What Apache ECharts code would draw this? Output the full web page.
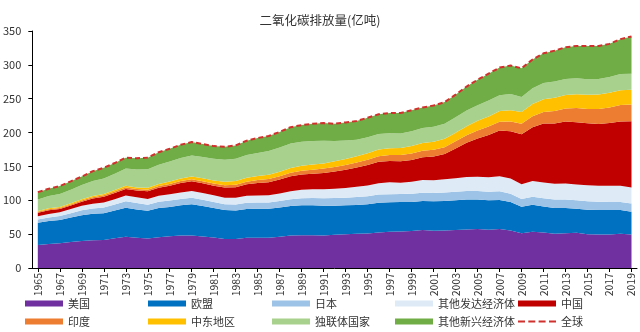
<!DOCTYPE html>
<html>
<head>
<meta charset="utf-8">
<script src="https://cdn.jsdelivr.net/npm/echarts@6/dist/echarts.min.js"></script>
<style>
html,body{margin:0;padding:0;background:#fff;}
#chart{width:640px;height:332px;}
</style>
</head>
<body>
<div id="chart"></div>
<script>
const years = [1965,1966,1967,1968,1969,1970,1971,1972,1973,1974,1975,1976,1977,1978,1979,1980,1981,1982,1983,1984,1985,1986,1987,1988,1989,1990,1991,1992,1993,1994,1995,1996,1997,1998,1999,2000,2001,2002,2003,2004,2005,2006,2007,2008,2009,2010,2011,2012,2013,2014,2015,2016,2017,2018,2019];

const usa = [34,35.5,36.5,38.5,40,41,41.5,44,46,44.5,43.5,45.5,47,48,48,46.5,45,43,43,44.5,44.5,44.5,46,48,48.5,48.5,48,49,50,50.5,51,52.5,53.5,54,54.5,56,55,55.5,56,57,57.5,56.5,57.5,55.5,51.5,53.5,52.5,50.5,51.5,52,50,49.5,49.5,50.5,49.5];
const eu = [33,34,34.5,36,38,39,39.5,41,43,42,41,43,43,44.5,46,45,43.5,42.5,42,42.5,43,43,43.5,43.5,44,44,44,43,42.5,42.5,43,44,43.5,43.5,43,43,43.5,43.5,44,44,43.5,43.5,43,42,39,40,38.5,38,37,35.5,36,36,36,35,33.5];
const japan = [4.5,5,5.7,6.5,7.3,8,8.3,8.8,9.6,9.4,9,9.3,9.5,9.3,9.7,9.4,9.1,8.8,8.8,9.3,9.2,9.2,9.3,10,10.4,10.9,11,11.2,11.1,11.7,11.8,12,12,11.7,12.1,12.3,12.2,12.4,12.5,12.6,12.6,12.5,12.7,12.1,11.3,11.8,12.1,12.6,12.8,12.4,12.5,12.2,12,11.8,12.3];
const otherDev = [5,5.3,5.6,6,6.5,7,7.4,7.9,8.5,8.5,8.5,9,9.3,9.6,10,10,9.8,9.6,9.8,10.3,10.5,10.8,11.3,12,12.6,13,13.4,14,14.5,15.2,16,16.8,17.5,16.8,17.8,18.8,19,19.5,20,20.7,21.2,21.5,22.2,22.4,21.8,23,23.3,23.4,23.6,23.5,23.6,23.8,24,24.2,23.6];
const china = [5,5.5,4.8,5.2,6.2,7.8,8.7,9.2,9.7,9.9,11.3,11.7,12.8,14.3,14.5,14.3,14.2,15,15.8,17,18.4,19.3,20.6,22,22.5,22.8,24,25.3,27,28.5,30.2,31.5,31.5,31.8,32.2,33.5,35,37.5,44,50.5,56.5,62.5,67.5,70,74,79.5,87,89,91.5,92,91.5,91,92.5,95,98];
const india = [1.5,1.6,1.6,1.7,1.8,1.8,1.9,2,2.1,2.2,2.4,2.5,2.6,2.7,2.9,3,3.3,3.4,3.7,3.9,4.3,4.6,4.9,5.3,5.7,6,6.4,6.8,7,7.4,8,8.3,8.7,8.9,9.4,9.7,9.8,10.1,10.5,11.1,11.6,12.3,13.2,14.3,15.6,16.3,17.1,18.5,19.3,20.8,21.3,22.2,23,24.4,24.6];
const middleEast = [1.3,1.4,1.5,1.6,1.7,1.8,2,2.2,2.4,2.5,2.7,3.1,3.4,3.6,3.9,4.3,4.5,5,5.3,5.7,6,6.3,6.7,7,7.3,7.5,7.7,8.3,8.8,9.2,9.5,9.8,10.3,10.6,11,11.3,11.8,12.3,12.8,13.6,14.4,15.1,15.6,16.7,17.3,18.2,18.6,19.3,19.8,20.5,20.9,21.4,21.8,21.7,21.9];
const cis = [17,18,19,20,21,22,23,24,25.5,26.5,27.5,28.5,29.5,30.5,31,31.5,32,32.5,33,33.5,34,35,35.5,36,35.5,35,33.5,30,27.5,24.5,23.5,23,22,21.5,22,22,22.3,22.3,22.8,23,23,23.6,23.6,24,22.2,23,24,24.3,23.5,23.5,22.8,23,23.2,23.8,23.5];
const otherEmerging = [10.7,10.7,11.8,12.5,12.5,14.6,15.7,15.9,16.2,16.5,17.1,18.4,18.9,19.5,20,19,18.6,19.2,19.6,21.3,22.1,22.3,23.2,24.2,24.5,25.3,26,25.4,26.6,27.5,29,29.1,30,30.2,31,30.4,31.4,31.9,33.4,35.5,37.7,39.5,40.7,42,42.3,42.7,43.9,45.4,47,47.8,49.4,48.9,49,51.6,55.1];
const globalTotal = [112,117,121,128,135,143,148,155,163,162,163,171,176,182,186,183,180,179,181,188,192,195,201,208,211,213,214,213,215,217,222,227,229,229,233,237,240,245,256,268,278,287,296,299,295,308,317,321,326,328,328,328,331,338,342];

const yTicks = [0,50,100,150,200,250,300,350];

const FONT = "'Noto Sans CJK SC', 'Noto Sans', sans-serif";

const areaDefs = [
  ['美国', usa, '#7030A0'],
  ['欧盟', eu, '#0070C0'],
  ['日本', japan, '#9DC3E6'],
  ['其他发达经济体', otherDev, '#DEEBF7'],
  ['中国', china, '#C00000'],
  ['印度', india, '#ED7D31'],
  ['中东地区', middleEast, '#FFC000'],
  ['独联体国家', cis, '#A9D18E'],
  ['其他新兴经济体', otherEmerging, '#70AD47']
];
const globalName = '全球';
const globalColor = '#D0312D';

const series = areaDefs.map(([name, data, color]) => ({
  name: name,
  type: 'line',
  stack: 'total',
  data: data,
  symbol: 'none',
  showSymbol: false,
  itemStyle: { color: color },
  lineStyle: { width: 0, opacity: 0, color: color },
  areaStyle: { color: color, opacity: 1 },
  emphasis: { disabled: true },
  z: 2
}));

series.push({
  name: globalName,
  type: 'line',
  data: globalTotal,
  symbol: 'none',
  showSymbol: false,
  itemStyle: { color: globalColor },
  lineStyle: { color: globalColor, width: 2, type: [5, 3] },
  emphasis: { disabled: true },
  z: 5
});

// legend layout: 5 columns x 2 rows
const colLeft = [25, 148, 272, 395, 518];
const rowTop = [298, 316];
const legendNames = areaDefs.map(d => d[0]).concat([globalName]);
const dashIcon = 'path://M0,0h7v2h-7z M10.3,0h7v2h-7z M20.6,0h7v2h-7z M31,0h7v2h-7z';

const legends = legendNames.map((name, i) => {
  const isGlobal = name === globalName;
  return {
    orient: 'horizontal',
    left: colLeft[i % 5],
    top: rowTop[Math.floor(i / 5)],
    itemWidth: 38,
    itemHeight: isGlobal ? 2 : 6,
    itemGap: 0,
    padding: 0,
    selectedMode: false,
    textStyle: { fontSize: 11, color: '#333', fontFamily: FONT },
    data: [{ name: name, icon: isGlobal ? dashIcon : 'rect', itemStyle: isGlobal ? { color: globalColor } : undefined }]
  };
});

const chart = echarts.init(document.getElementById('chart'), null, { renderer: 'canvas' });
chart.setOption({
  animation: false,
  backgroundColor: '#fff',
  title: {
    text: '二氧化碳排放量(亿吨)',
    left: 'center',
    top: 9,
    textStyle: { fontSize: 12.5, fontWeight: 'normal', color: '#333', fontFamily: FONT }
  },
  grid: { left: 29, right: 3, top: 31, bottom: 64, containLabel: false },
  legend: legends,
  xAxis: {
    type: 'category',
    data: years,
    boundaryGap: true,
    axisLine: { lineStyle: { color: '#000', width: 1 } },
    axisTick: { show: true, alignWithLabel: true, interval: 1, length: 4, lineStyle: { color: '#000' } },
    axisLabel: { interval: 1, rotate: 90, fontSize: 10.5, color: '#333', fontFamily: FONT, margin: 5 },
    splitLine: { show: false }
  },
  yAxis: {
    type: 'value',
    min: yTicks[0],
    max: yTicks[yTicks.length - 1],
    interval: 50,
    axisLine: { show: true, lineStyle: { color: '#000', width: 1 } },
    axisTick: { show: true, length: 4, lineStyle: { color: '#000' } },
    axisLabel: { fontSize: 11, color: '#333', fontFamily: FONT, margin: 11 },
    splitLine: { show: false }
  },
  series: series
});
</script>
</body>
</html>
